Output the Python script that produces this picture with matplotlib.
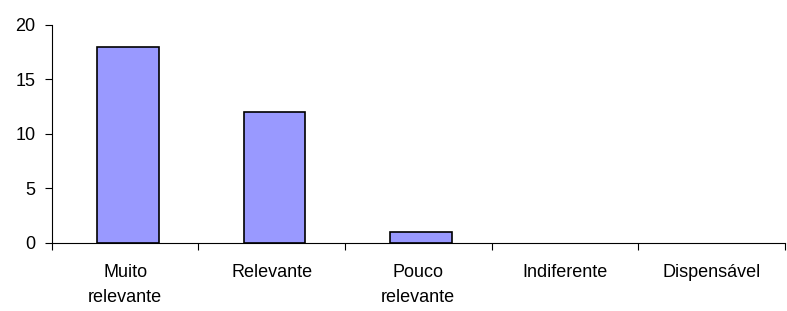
import matplotlib
matplotlib.use('Agg')
import matplotlib.pyplot as plt
import numpy as np

categorias = ["Muito\nrelevante", "Relevante", "Pouco\nrelevante", "Indiferente", "Dispensável"]
valores = [18, 12, 1, 0, 0]

plt.rcParams['font.family'] = ['Liberation Sans', 'DejaVu Sans']

fig = plt.figure(figsize=(7.87, 3.11), dpi=100)
ax = fig.add_axes([0.066, 0.219, 0.931, 0.701])

x = np.arange(len(categorias))
larguras = [1.2 if v > 0 else 0 for v in valores]
ax.bar(x + 0.02, valores, width=0.42, color='#9999FF', edgecolor='black', linewidth=larguras)

ax.set_xlim(-0.5, len(categorias) - 0.5)
ax.set_ylim(0, 20)
ax.set_yticks([0, 5, 10, 15, 20])

# ticks entre categorias
ax.set_xticks(np.arange(-0.5, len(categorias) + 0.5, 1))
ax.set_xticklabels([])
ax.set_xticks(x, minor=True)
ax.set_xticklabels(categorias, minor=True, fontsize=13, linespacing=1.65, va='top')
ax.tick_params(axis='x', which='minor', length=0, pad=15)
ax.tick_params(axis='x', which='major', length=5, direction='out')
ax.tick_params(axis='y', length=5, labelsize=13, pad=7)

for s in ['top', 'right']:
    ax.spines[s].set_visible(False)

plt.savefig("out.png")
